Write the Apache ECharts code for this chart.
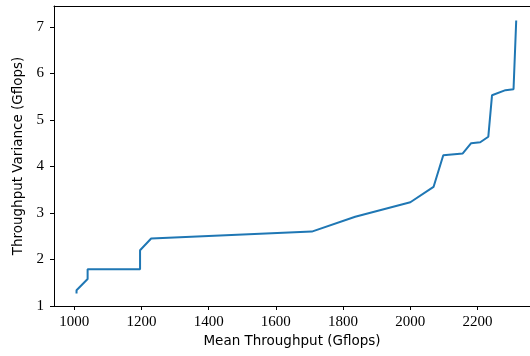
<!DOCTYPE html>
<html><head><meta charset="utf-8">
<script src="https://cdn.jsdelivr.net/npm/echarts@6/dist/echarts.min.js"></script>
<style>html,body{margin:0;padding:0;background:#fff}#c{width:530px;height:356px}</style>
</head><body><div id="c"></div>
<script>
const meanThroughput = [1007, 1007, 1040, 1040, 1196, 1196, 1229, 1707, 1836, 2000, 2069, 2098, 2156, 2181, 2208, 2232, 2243, 2283, 2307, 2315];
const throughputVariance = [1.27, 1.34, 1.58, 1.79, 1.79, 2.20, 2.45, 2.60, 2.92, 3.23, 3.56, 4.24, 4.28, 4.50, 4.52, 4.64, 5.53, 5.64, 5.66, 7.14];
const xTicks = [1000, 1200, 1400, 1600, 1800, 2000, 2200];
const yTicks = [1, 2, 3, 4, 5, 6, 7];

const chart = echarts.init(document.getElementById('c'), null, {renderer: 'canvas'});
const serif = '"Liberation Serif", serif';
const sans = '"DejaVu Sans", sans-serif';
chart.setOption({
  animation: false,
  grid: {left: 54, top: 6, right: 0, height: 300, show: false, containLabel: false},
  xAxis: [{
    type: 'value', min: 940, max: 2356,
    name: 'Mean Throughput (Gflops)', nameLocation: 'middle', nameGap: 24,
    nameTextStyle: {fontFamily: sans, fontSize: 13.5, color: '#000'},
    axisLine: {show: true, lineStyle: {color: '#000', width: 1}},
    axisTick: {show: true, inside: false, length: 4, lineStyle: {color: '#000'}, customValues: xTicks},
    axisLabel: {fontFamily: serif, fontSize: 15, color: '#000', margin: 9, customValues: xTicks, formatter: v => String(v)},
    splitLine: {show: false}
  }, {
    type: 'value', min: 940, max: 2356, position: 'top',
    axisLine: {show: true, lineStyle: {color: '#000', width: 1}},
    axisTick: {show: false}, axisLabel: {show: false}, splitLine: {show: false}
  }],
  yAxis: {
    type: 'value', min: 1, max: 7.45,
    name: 'Throughput Variance (Gflops)', nameLocation: 'middle', nameGap: 29,
    nameTextStyle: {fontFamily: sans, fontSize: 13.5, color: '#000'},
    axisLine: {show: true, lineStyle: {color: '#000', width: 1}},
    axisTick: {show: true, inside: false, length: 4, lineStyle: {color: '#000'}, customValues: yTicks},
    axisLabel: {fontFamily: serif, fontSize: 15, color: '#000', margin: 10, customValues: yTicks},
    splitLine: {show: false}
  },
  series: [{
    type: 'line',
    xAxisIndex: 0,
    data: meanThroughput.map((x, i) => [x, throughputVariance[i]]),
    showSymbol: false, symbol: 'none',
    lineStyle: {color: '#1f77b4', width: 2},
    itemStyle: {color: '#1f77b4'}
  }]
});
</script></body></html>
